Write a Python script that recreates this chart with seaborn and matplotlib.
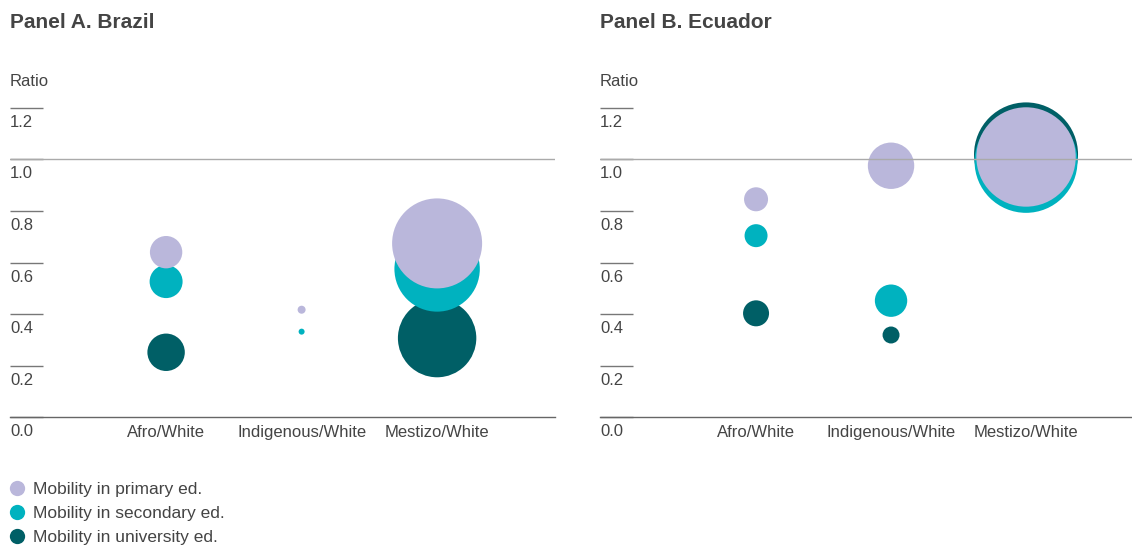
import numpy as np
import pandas as pd
import matplotlib
matplotlib.use("Agg")
import matplotlib.pyplot as plt
import matplotlib.transforms as mtransforms
from matplotlib.lines import Line2D
import seaborn as sns

# ---------------- data ----------------
categories = ["Afro/White", "Indigenous/White", "Mestizo/White"]
levels = ["Mobility in primary ed.", "Mobility in secondary ed.", "Mobility in university ed."]
colors = ["#bab7db", "#00b2bf", "#005f66"]

brazil_primary = [0.640, 0.417, 0.674]
brazil_secondary = [0.526, 0.332, 0.575]
brazil_university = [0.252, np.nan, 0.307]
brazil_primary_size = [262, 16, 2025]
brazil_secondary_size = [272, 9, 1823]
brazil_university_size = [350, np.nan, 1537]

ecuador_primary = [0.845, 0.975, 1.009]
ecuador_secondary = [0.704, 0.452, 0.992]
ecuador_university = [0.403, 0.319, 1.019]
ecuador_primary_size = [144, 538, 2470]
ecuador_secondary_size = [132, 262, 2650]
ecuador_university_size = [169, 72, 2704]

yticks = [0.0, 0.2, 0.4, 0.6, 0.8, 1.0, 1.2]
ytick_labels = ["0.0", "0.2", "0.4", "0.6", "0.8", "1.0", "1.2"]
titles = ["Panel A. Brazil", "Panel B. Ecuador"]
y_label = "Ratio"


def build(prim, sec, uni, ps, ss, us):
    rows = []
    # draw order: university, secondary, primary (primary on top)
    for lev, vals, sizes in [(levels[2], uni, us), (levels[1], sec, ss), (levels[0], prim, ps)]:
        for c, v, s in zip(categories, vals, sizes):
            if not (np.isnan(v) or np.isnan(s)):
                rows.append({"group": c, "level": lev, "ratio": v, "size": s})
    df = pd.DataFrame(rows)
    df["group"] = pd.Categorical(df["group"], categories=categories, ordered=True)
    return df


df_br = build(brazil_primary, brazil_secondary, brazil_university,
              brazil_primary_size, brazil_secondary_size, brazil_university_size)
df_ec = build(ecuador_primary, ecuador_secondary, ecuador_university,
              ecuador_primary_size, ecuador_secondary_size, ecuador_university_size)

# ---------------- style ----------------
sns.set_style("white")
plt.rcParams["font.family"] = ["Liberation Sans", "DejaVu Sans"]
TXT = "#444444"

W, H, DPI = 1132, 546, 100
fig = plt.figure(figsize=(W / DPI, H / DPI), dpi=DPI)

ytop_px, ybot_px = 107.7, 417.3
panels = [
    (df_br, 10, 555, (-1.152, 2.87)),
    (df_ec, 600, 1132, (-1.156, 2.785)),
]

max_size = 2704.0
max_s_pts = (2 * np.sqrt(max_size) * 72 / DPI) ** 2
palette = dict(zip(levels, colors))

for i, (df, x0, x1, xlim) in enumerate(panels):
    ax = fig.add_axes([x0 / W, 1 - ybot_px / H, (x1 - x0) / W, (ybot_px - ytop_px) / H])
    sns.scatterplot(data=df, x="group", y="ratio", hue="level", size="size",
                    palette=palette, hue_order=levels,
                    sizes=(0, max_s_pts), size_norm=(0, max_size),
                    linewidth=0, alpha=1, legend=False, ax=ax, clip_on=False, zorder=3)
    ax.set_xlim(*xlim)
    ax.set_ylim(0, 1.2)
    ax.set_xticks(range(len(categories)))
    ax.set_xticklabels(categories)
    ax.set_xlabel("")
    ax.set_ylabel("")
    for s in ["left", "right", "top"]:
        ax.spines[s].set_visible(False)
    ax.spines["bottom"].set_color("#666666")
    ax.spines["bottom"].set_linewidth(1.0)
    ax.tick_params(axis="x", length=0, pad=5.5, labelsize=12, labelcolor=TXT)
    ax.set_yticks(yticks)
    ax.tick_params(axis="y", left=True, direction="in", length=33 * 72 / DPI, width=1.0,
                   color="#777777", labelleft=False)
    ax.axhline(1.0, color="#aaaaaa", lw=1.0, zorder=4)
    ax.grid(False)
    trans = mtransforms.blended_transform_factory(ax.transAxes, ax.transData)
    for v, lab in zip(yticks, ytick_labels):
        ax.annotate(lab, xy=(0, v), xycoords=trans, xytext=(0, -19 * 72 / DPI),
                    textcoords="offset points", ha="left", va="baseline",
                    fontsize=12, color=TXT)
    fig.text(x0 / W, 1 - 22 / H, titles[i], fontsize=15, fontweight="bold",
             color=TXT, ha="left", va="center")
    fig.text(x0 / W, 1 - 81 / H, y_label, fontsize=12, color=TXT,
             ha="left", va="center")

handles = [Line2D([0], [0], marker="o", linestyle="", markersize=11,
                  markerfacecolor=c, markeredgewidth=0, label=l)
           for c, l in zip(colors, levels)]
fig.legend(handles=handles, loc="upper left", bbox_to_anchor=(7 / W, 1 - 482 / H),
           frameon=False, fontsize=12.5, handletextpad=0.3, labelspacing=0.5,
           handlelength=1.2, borderpad=0, borderaxespad=0, labelcolor=TXT)

fig.savefig("out.png", dpi=DPI)
